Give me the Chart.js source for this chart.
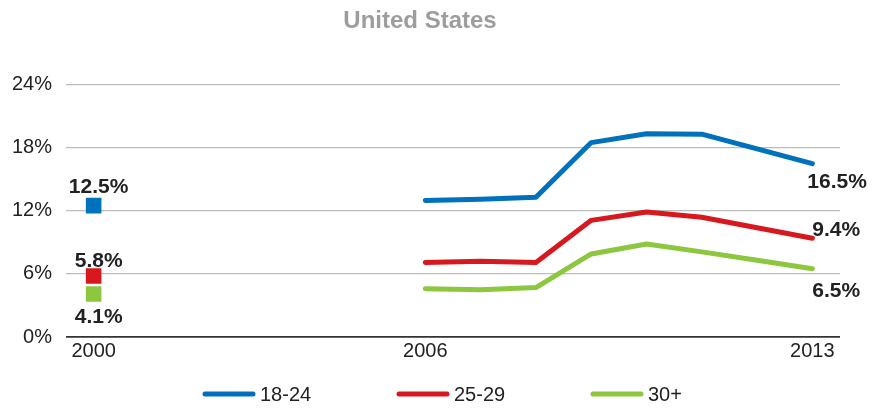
<!DOCTYPE html>
<html>
<head>
<meta charset="utf-8">
<script src="https://cdn.jsdelivr.net/npm/chart.js@4"></script>
<style>
  html, body { margin: 0; padding: 0; background: #fff; }
  #wrap { width: 872px; height: 409px; }
</style>
</head>
<body>
<div id="wrap"><canvas id="chart" width="872" height="409"></canvas></div>
<script>
// Unemployment by age group, United States
const years = [2006, 2007, 2008, 2009, 2010, 2011, 2012, 2013];
const age18to24 = [13.0, 13.1, 13.3, 18.5, 19.35, 19.3, 17.9, 16.5];
const age25to29 = [7.1, 7.2, 7.1, 11.1, 11.9, 11.4, 10.4, 9.4];
const age30plus = [4.6, 4.5, 4.7, 7.9, 8.85, 8.1, 7.3, 6.5];

// single reading for 2000
const baseYear = 2000;
const base2000 = [12.5, 5.8, 4.1];

const seriesNames = ['18-24', '25-29', '30+'];
const colors = ['#0071bc', '#d7191f', '#8dc63f'];
const yTicks = [0, 6, 12, 18, 24];
const xTicks = [2000, 2006, 2013];

const textColor = '#222';
const tickFont = { family: 'Liberation Sans, Arial, sans-serif', size: 20 };
const labelFont = 'bold 21px Liberation Sans, Arial, sans-serif';

// label offsets (dx, dy from point, alphabetic baseline)
const endOffsets = [[-5, 24], [0, -2], [0, 28]];
const startOffsets = [[5, -13], [5, -9], [5, 29]];

const toPoints = vals => vals.map((v, i) => ({ x: years[i], y: v }));
const lineSeries = [age18to24, age25to29, age30plus];

const datasets = [];
lineSeries.forEach((vals, i) => {
  datasets.push({
    type: 'line',
    label: seriesNames[i],
    data: toPoints(vals),
    borderColor: colors[i],
    backgroundColor: colors[i],
    borderWidth: 5,
    borderCapStyle: 'round',
    borderJoinStyle: 'round',
    pointRadius: 0,
    tension: 0
  });
});
base2000.forEach((v, i) => {
  datasets.push({
    type: 'scatter',
    label: seriesNames[i] + ' 2000',
    data: [{ x: baseYear, y: v }],
    pointStyle: 'rect',
    pointRadius: 11,
    borderWidth: 0,
    backgroundColor: colors[i],
    isBase: true
  });
});

const valueLabels = {
  id: 'valueLabels',
  afterDatasetsDraw(chart) {
    const { ctx, scales } = chart;
    ctx.save();
    ctx.font = labelFont;
    ctx.fillStyle = textColor;
    ctx.textBaseline = 'alphabetic';
    lineSeries.forEach((vals, i) => {
      const last = vals.length - 1;
      const x = scales.x.getPixelForValue(years[last]);
      const y = scales.y.getPixelForValue(vals[last]);
      ctx.textAlign = 'left';
      ctx.fillText(vals[last].toFixed(1) + '%', x + endOffsets[i][0], y + endOffsets[i][1]);
    });
    base2000.forEach((v, i) => {
      const x = scales.x.getPixelForValue(baseYear);
      const y = scales.y.getPixelForValue(v);
      ctx.textAlign = 'center';
      ctx.fillText(v.toFixed(1) + '%', x + startOffsets[i][0], y + startOffsets[i][1]);
    });
    ctx.restore();
  }
};

const lineLegend = {
  id: 'lineLegend',
  afterDraw(chart) {
    const { ctx, chartArea } = chart;
    const y = 394;
    let x = chartArea.left + 137;
    ctx.save();
    ctx.font = '20px Liberation Sans, Arial, sans-serif';
    ctx.textBaseline = 'middle';
    ctx.textAlign = 'left';
    chart.data.datasets.filter(d => !d.isBase).forEach(d => {
      ctx.strokeStyle = d.borderColor;
      ctx.lineWidth = 5;
      ctx.lineCap = 'round';
      ctx.beginPath();
      ctx.moveTo(x + 2, y);
      ctx.lineTo(x + 50, y);
      ctx.stroke();
      ctx.fillStyle = textColor;
      ctx.fillText(d.label, x + 57, y + 1);
      x += 194;
    });
    ctx.restore();
  }
};

new Chart(document.getElementById('chart'), {
  data: { datasets },
  options: {
    responsive: false,
    animation: false,
    layout: { padding: { left: 0, right: 32, top: 0, bottom: 42 } },
    plugins: {
      legend: { display: false },
      tooltip: { enabled: false },
      title: {
        display: true,
        text: 'United States',
        color: '#9d9d9d',
        font: { family: 'Liberation Sans, Arial, sans-serif', size: 24, weight: 'bold' },
        padding: { top: 7, bottom: 49 }
      }
    },
    scales: {
      x: {
        type: 'linear',
        min: 1999.5,
        max: 2013.5,
        afterBuildTicks: scale => { scale.ticks = xTicks.map(v => ({ value: v })); },
        afterFit: scale => { scale.height = 30; },
        grid: { display: false, drawTicks: false },
        border: { display: false },
        ticks: {
          padding: 2,
          color: textColor,
          font: tickFont,
          maxRotation: 0,
          autoSkip: false,
          callback: v => String(v)
        }
      },
      y: {
        min: 0,
        max: 24,
        afterBuildTicks: scale => { scale.ticks = yTicks.map(v => ({ value: v })); },
        afterFit: scale => { scale.width = 66; },
        border: { display: false },
        grid: {
          drawTicks: false,
          color: c => c.tick && c.tick.value === 0 ? '#333' : '#bcbcbc',
          lineWidth: c => c.tick && c.tick.value === 0 ? 1.8 : 1.3
        },
        ticks: {
          padding: 14,
          color: textColor,
          font: tickFont,
          callback: v => v + '%'
        }
      }
    }
  },
  plugins: [valueLabels, lineLegend]
});
</script>
</body>
</html>
